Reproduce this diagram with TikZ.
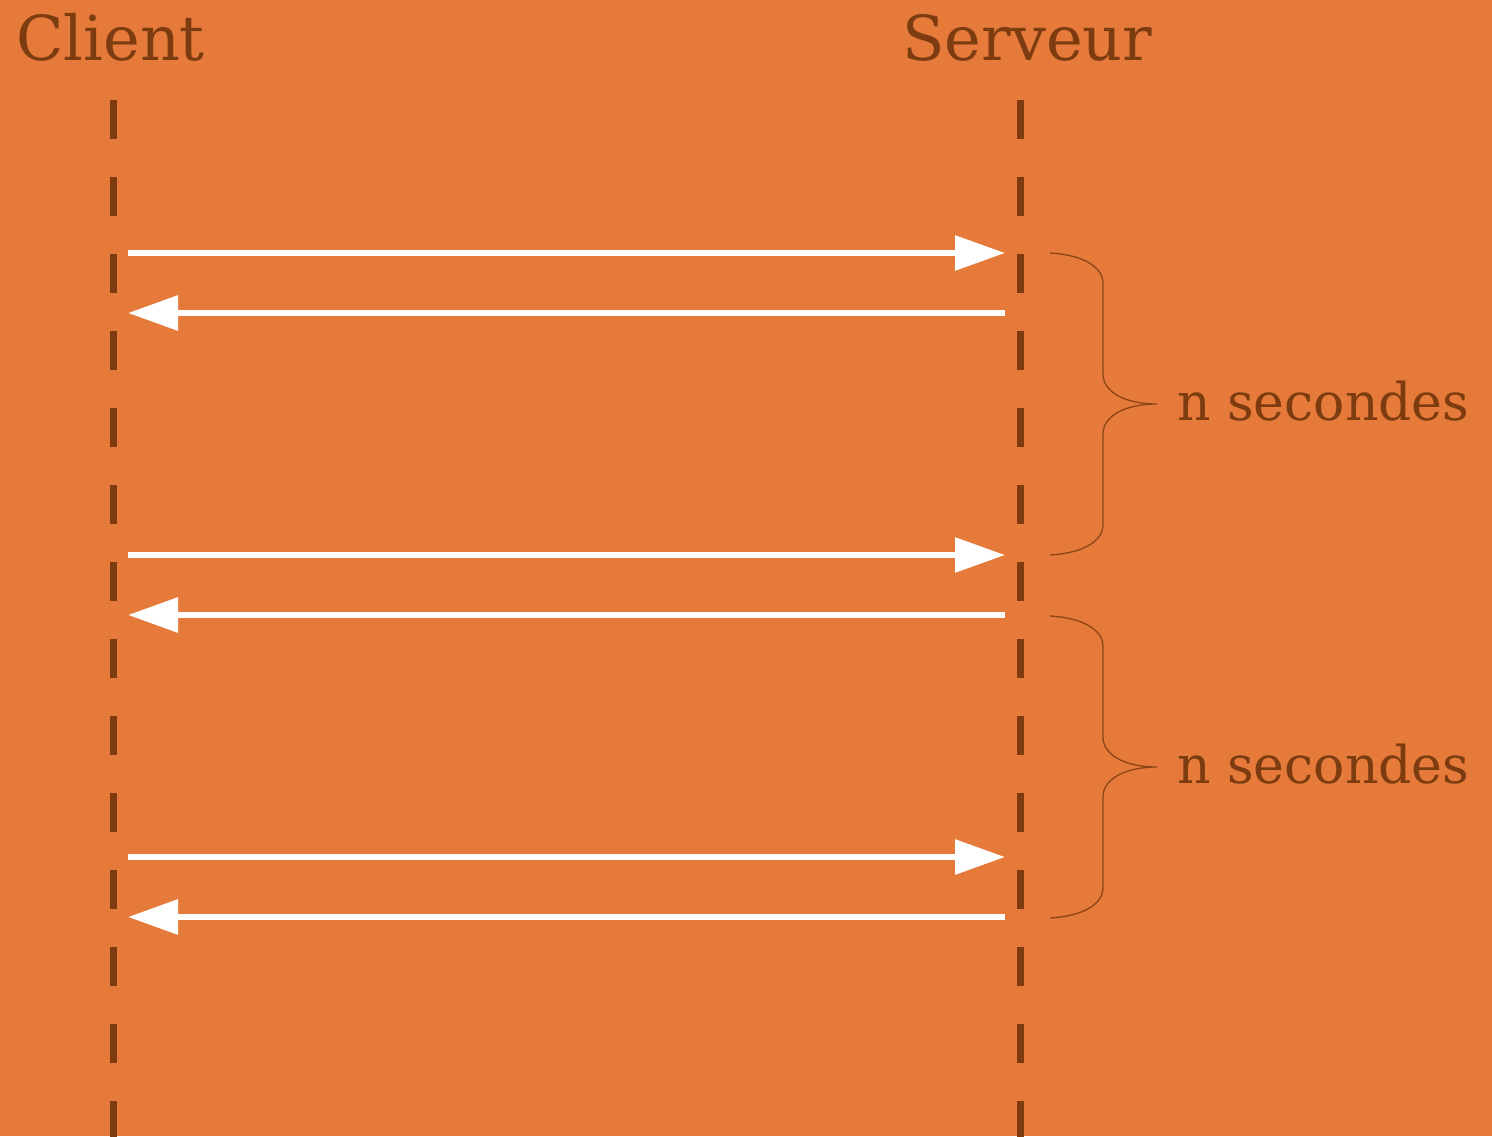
\documentclass[tikz,border=0pt]{standalone}
\usepackage{fontspec}
\setmainfont{DejaVu Serif}
\usetikzlibrary{arrows.meta}
\definecolor{bg}{HTML}{E57A3A}
\definecolor{brn}{HTML}{7C3C10}
\tikzset{
  lifeline/.style={brn, line width=7pt, dash pattern=on 38.5pt off 38.5pt},
  msg/.style={white, line width=6pt, -{Triangle[length=50pt,width=34pt]}},
  brace/.style={brn!85!bg, line width=1.3pt},
  title/.style={text=brn, inner sep=0pt, anchor=base west, font=\fontsize{62}{62}\selectfont},
  lbl/.style={text=brn, inner sep=0pt, anchor=base west, font=\fontsize{52}{52}\selectfont},
}
\begin{document}
\begin{tikzpicture}[x=1pt,y=-1pt]
\fill[bg] (0,0) rectangle (1492,1136);
\useasboundingbox (0,0) rectangle (1492,1136);
% titles
\node[title] (client) at (16,60) {Client};
\node[title] (server) at (902,60) {Serveur};
% lifelines
\coordinate (ctop) at (113,100);
\coordinate (cbot) at (113,1160);
\coordinate (stop) at (1020,100);
\coordinate (sbot) at (1020,1160);
\draw[lifeline] (ctop) -- (cbot);
\draw[lifeline] (stop) -- (sbot);
% message points
\foreach \i/\y in {1/253,2/313,3/555,4/615,5/857,6/917}{
  \coordinate (cl\i) at (128,\y);
  \coordinate (sv\i) at (1005,\y);
}
\draw[msg] (cl1) -- (sv1);
\draw[msg] (sv2) -- (cl2);
\draw[msg] (cl3) -- (sv3);
\draw[msg] (sv4) -- (cl4);
\draw[msg] (cl5) -- (sv5);
\draw[msg] (sv6) -- (cl6);
% braces
\foreach \k/\a/\b in {1/253/555,2/616/918}{
  \pgfmathsetmacro{\m}{(\a+\b)/2}
  \coordinate (bt\k) at (1050,\a);
  \coordinate (bb\k) at (1050,\b);
  \coordinate (bm\k) at (1157,\m);
  \draw[brace] (bt\k) .. controls (1085,\a+2) and (1103,\a+15) .. (1103,\a+30)
     -- (1103,\m-30) .. controls (1103,\m-12) and (1125,\m) .. (bm\k)
     .. controls (1125,\m) and (1103,\m+12) .. (1103,\m+30)
     -- (1103,\b-30) .. controls (1103,\b-15) and (1085,\b-2) .. (bb\k);
}
\node[lbl] (n1) at (1177,420) {n secondes};
\node[lbl] (n2) at (1177,783) {n secondes};
\end{tikzpicture}
\end{document}
